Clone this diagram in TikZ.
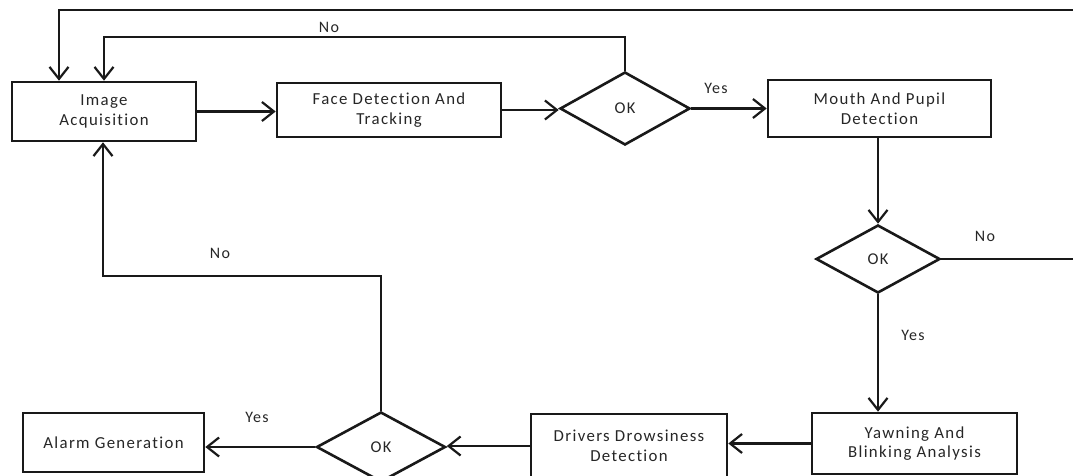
\documentclass[tikz,border=0pt]{standalone}
\usepackage{fontspec}
\setmainfont{Carlito}[LetterSpace=8,Ligatures=NoCommon]
\usetikzlibrary{shapes.geometric,arrows.meta}
\begin{document}
\begin{tikzpicture}[x=1pt,y=-1pt,
  box/.style={draw=black!90,line width=2.6pt,rectangle,inner sep=0pt,align=center,
    font=\fontsize{16.8}{19.5}\selectfont,text=black!85},
  dia/.style={draw=black!90,line width=2.6pt,diamond,inner sep=0pt,
    font=\fontsize{16.5}{18}\selectfont,text=black!85},
  lbl/.style={font=\fontsize{16}{18}\selectfont,text=black!85,inner sep=0pt},
  arr/.style={draw=black!90,line width=2.2pt,-{Straight Barb[length=12pt,width=19pt,line width=2.2pt]}},
  ln/.style={draw=black!90,line width=2.2pt}]
\useasboundingbox (0,0) rectangle (1073,476);
\node[box,minimum width=184pt,minimum height=59pt] (img) at (104,111.5) {Image\\Acquisition};
\node[box,minimum width=224pt,minimum height=54pt] (face) at (389,110) {Face Detection And\\Tracking};
\node[dia,minimum width=130pt,minimum height=73pt] (d1) at (625,108.5) {OK};
\node[box,minimum width=223pt,minimum height=57pt] (mouth) at (879.5,108.5) {Mouth And Pupil\\Detection};
\node[dia,minimum width=124pt,minimum height=68pt] (d2) at (878,259) {OK};
\node[box,minimum width=205pt,minimum height=61pt] (yawn) at (914.5,443.5) {Yawning And\\Blinking Analysis};
\node[box,minimum width=196pt,minimum height=64pt] (drv) at (629,446) {Drivers Drowsiness\\Detection};
\node[dia,minimum width=129pt,minimum height=70pt] (d3) at (381,447) {OK};
\node[box,minimum width=181pt,minimum height=59pt] (alarm) at (113.5,442.5) {Alarm Generation};
\coordinate (loopR) at (1085,10);
% labels
\node[lbl] (l1) at (329,27) {No};
\node[lbl] (l2) at (716,88) {Yes};
\node[lbl] (l3) at (985,236) {No};
\node[lbl] (l4) at (913,335) {Yes};
\node[lbl] (l5) at (220,253) {No};
\node[lbl] (l6) at (257,417) {Yes};
% connectors
\draw[arr] (img.east) -- (img.east -| face.west);
\draw[arr] (face.east) -- (face.east -| d1.west);
\draw[arr] (d1.east) -- (d1.east -| mouth.west);
\draw[arr] (d1.north) -- ++(0,-34) -| (img.north);
\draw[arr] (d2.east) -| (loopR) -| ([xshift=-45pt]img.north);
\draw[arr] (mouth.south -| d2.north) -- (d2.north);
\draw[arr] (d2.south) -- (d2.south |- yawn.north);
\draw[arr] (yawn.west) -- (yawn.west -| drv.east);
\draw[arr] (drv.west) -- (drv.west -| d3.east);
\draw[arr] (d3.west) -- (d3.west -| alarm.east);
\draw[arr] (d3.north) -- (381,276) -| ([xshift=-1pt]img.south);
\end{tikzpicture}
\end{document}
